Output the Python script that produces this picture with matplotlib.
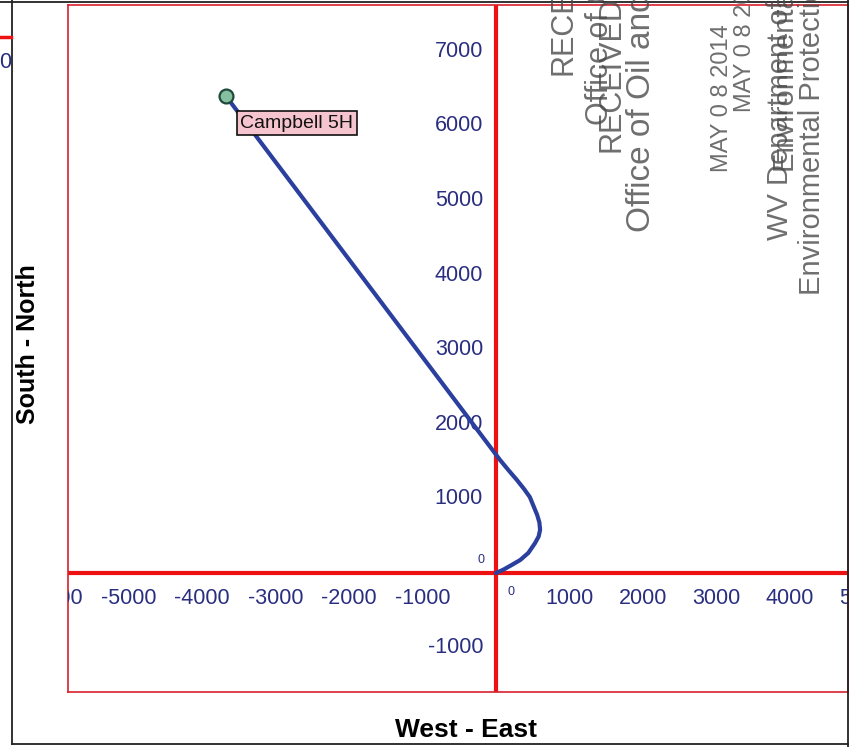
import matplotlib.pyplot as plt
from matplotlib.lines import Line2D
from matplotlib.transforms import offset_copy

plt.rcParams["font.family"] = ["Liberation Sans", "DejaVu Sans"]

# well path, feet from surface location
EW_FT = [0, 100, 200, 330, 440, 530, 580, 600, 590, 560, 510, 460, 380, 285, 170, 55, -3673]
NS_FT = [0, 45, 100, 175, 270, 400, 490, 580, 680, 780, 900, 1020, 1130, 1248, 1380, 1517, 6400]
WELL_NAME = "Campbell 5H"

X_TICKS = [-6000, -5000, -4000, -3000, -2000, -1000, 1000, 2000, 3000, 4000, 5000]
Y_TICKS = [-1000, 1000, 2000, 3000, 4000, 5000, 6000, 7000]
X_LABEL = "West - East"
Y_LABEL = "South - North"

# scanned "RECEIVED" stamps (two overlapping impressions)
STAMP_TEXT = [
    "RECEIVED",
    "Office of Oil and Gas",
    "RECEIVED",
    "Office of Oil and Gas",
    "MAY 0 8 2014",
    "MAY 0 8 2014",
    "WV Department of",
    "Environmental Protection",
    "Environmental Protection",
]
STAMP_POS = [(563, 75), (600, 125), (612, 152), (642, 232), (722, 172),
             (745, 112), (780, 240), (786, 172), (812, 295)]
STAMP_SIZE = [22, 22, 22, 24, 17, 17, 21, 21, 21]

W, H = 860, 747
RED = "#ee1111"
TICK_BLUE = "#2a2e80"
PATH_BLUE = "#2b3f9e"


def fx(px):
    return px / W


def fy(py):
    return 1 - py / H


fig = plt.figure(figsize=(W / 100, H / 100), dpi=100)
ax = fig.add_axes([fx(68), fy(692), fx(848) - fx(68), fy(5) - fy(692)])
ax.set_xlim(-5823, 4789)
ax.set_ylim(-1597, 7624)
ax.set_xticks([])
ax.set_yticks([])
for side in ["left", "top", "bottom", "right"]:
    ax.spines[side].set_color("#d8202c")
    ax.spines[side].set_linewidth(1.2)

ax.axhline(0, color=RED, lw=3.0, zorder=2)
ax.axvline(0, color=RED, lw=3.0, zorder=2)

# tick labels sit along the zero lines and are clipped by the frame
xt = offset_copy(ax.transData, fig=fig, x=0, y=-25, units="dots")
for v in X_TICKS:
    ax.text(v, 0, str(v), transform=xt, ha="center", va="center",
            fontsize=15.5, color=TICK_BLUE, clip_on=True)
yt = offset_copy(ax.transData, fig=fig, x=-13, y=0, units="dots")
for v in Y_TICKS:
    ax.text(0, v, str(v), transform=yt, ha="right", va="center",
            fontsize=15.5, color=TICK_BLUE, clip_on=True)
ax.text(0, 0, "0", transform=offset_copy(ax.transData, fig=fig, x=15, y=-19, units="dots"),
        ha="center", va="center", fontsize=9, color=TICK_BLUE)
ax.text(0, 0, "0", transform=offset_copy(ax.transData, fig=fig, x=-15, y=13, units="dots"),
        ha="center", va="center", fontsize=9, color=TICK_BLUE)

ax.plot(EW_FT, NS_FT, color=PATH_BLUE, lw=3.0, solid_capstyle="round",
        solid_joinstyle="round", zorder=3)
ax.plot(EW_FT[-1], NS_FT[-1], "o", ms=10, mfc="#86c0a0", mec="#1f4a3a", mew=1.6, zorder=4)
ax.annotate(WELL_NAME, xy=(EW_FT[-1], NS_FT[-1]), xytext=(14, -27), textcoords="offset pixels",
            ha="left", va="center", fontsize=14, color="#111111",
            bbox=dict(boxstyle="square,pad=0.18", fc="#f6c4cf", ec="#111111", lw=1.2), zorder=5)

fig.text(fx(466), fy(730), X_LABEL, ha="center", va="center", fontsize=19, fontweight="bold")
fig.text(fx(28), fy(344), Y_LABEL, ha="center", va="center", rotation=90,
         fontsize=18, fontweight="bold")

for s, (px, py), size in zip(STAMP_TEXT, STAMP_POS, STAMP_SIZE):
    fig.text(fx(px), fy(py), s, rotation=90, ha="center", va="bottom",
             fontsize=size, color="#4a4a4a", alpha=0.8)

# scan frame and the edge of the neighbouring chart
frame = dict(color="#222222", lw=1.3, transform=fig.transFigure)
fig.add_artist(Line2D([fx(12), fx(12)], [fy(0), fy(744)], **frame))
fig.add_artist(Line2D([fx(12), fx(848)], [fy(744), fy(744)], **frame))
fig.add_artist(Line2D([fx(848), fx(848)], [fy(0), fy(747)], **frame))
fig.add_artist(Line2D([fx(0), fx(848)], [fy(1.5), fy(1.5)], **frame))
fig.add_artist(Line2D([fx(0), fx(11)], [fy(37), fy(37)], color=RED, lw=2.5,
                      transform=fig.transFigure))
fig.text(fx(11), fy(63), "0", ha="right", va="center", fontsize=15.5, color=TICK_BLUE)

fig.savefig("out.png", dpi=100)
